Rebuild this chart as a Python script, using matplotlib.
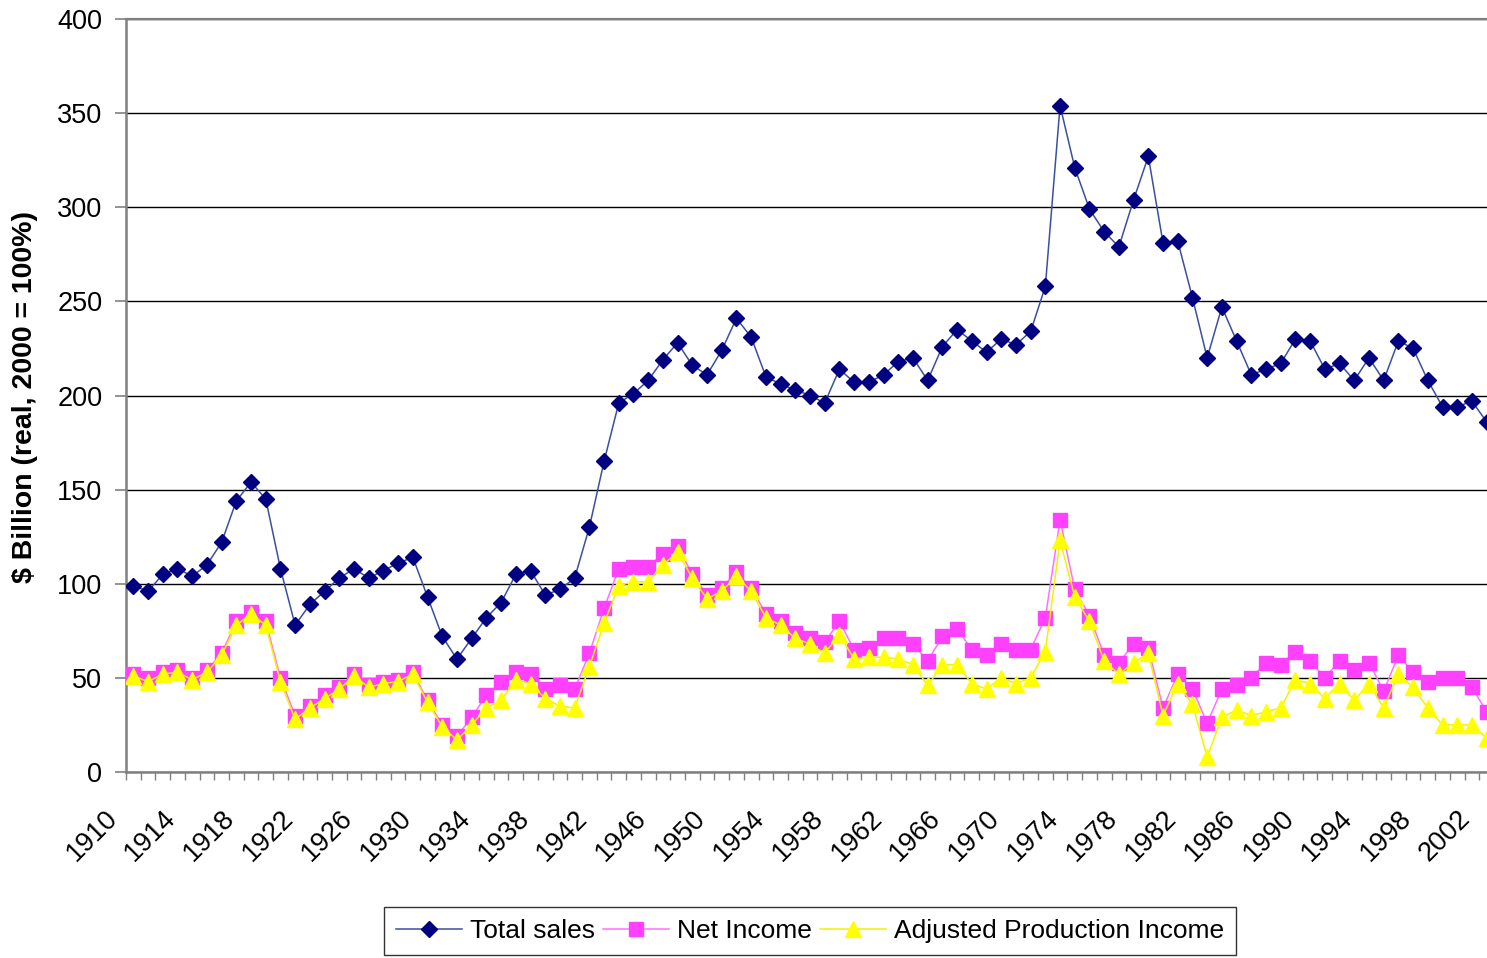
import numpy as np
import matplotlib.pyplot as plt
from matplotlib.transforms import ScaledTranslation

# Colors (Excel default-ish)
NAVY = '#000080'
NAVY_LINE = '#3A4FA0'
PINK = '#FF40FF'
PINK_LINE = '#FF70FF'
YELLOW = '#FFFF00'
YELLOW_LINE = '#F5F000'
GRAY = '#808080'

plt.rcParams['font.family'] = ['Liberation Sans', 'DejaVu Sans']

# Data: 1910-2002, $ billion (real, 2000 = 100%)
years = np.arange(1910, 2003)

total_sales = [
    99, 96, 105, 108, 104, 110, 122, 144, 154, 145,       # 1910-1919
    108, 78, 89, 96, 103, 108, 103, 107, 111, 114,        # 1920-1929
    93, 72, 60, 71, 82, 90, 105, 107, 94, 97,             # 1930-1939
    103, 130, 165, 196, 201, 208, 219, 228, 216, 211,     # 1940-1949
    224, 241, 231, 210, 206, 203, 200, 196, 214, 207,     # 1950-1959
    207, 211, 218, 220, 208, 226, 235, 229, 223, 230,     # 1960-1969
    227, 234, 258, 354, 321, 299, 287, 279, 304, 327,     # 1970-1979
    281, 282, 252, 220, 247, 229, 211, 214, 217, 230,     # 1980-1989
    229, 214, 217, 208, 220, 208, 229, 225, 208, 194,     # 1990-1999
    194, 197, 186,                                        # 2000-2002
]

net_income = [
    52, 50, 53, 54, 50, 54, 63, 80, 85, 80,
    50, 30, 35, 41, 45, 52, 46, 48, 49, 53,
    38, 25, 19, 29, 41, 48, 53, 52, 44, 46,
    44, 63, 87, 108, 109, 109, 116, 120, 105, 94,
    98, 106, 98, 84, 80, 74, 71, 69, 80, 65,
    66, 71, 71, 68, 59, 72, 76, 65, 62, 68,
    65, 65, 82, 134, 97, 83, 62, 58, 68, 66,
    34, 52, 44, 26, 44, 46, 50, 58, 57, 64,
    59, 50, 59, 54, 58, 43, 62, 53, 48, 50,
    50, 45, 32,
]

adj_prod_income = [
    51, 48, 52, 53, 49, 53, 62, 78, 84, 78,
    48, 28, 34, 39, 44, 51, 45, 47, 48, 52,
    37, 24, 17, 25, 34, 38, 49, 47, 39, 35,
    34, 56, 79, 99, 101, 101, 110, 117, 103, 92,
    96, 104, 96, 82, 78, 71, 68, 63, 73, 60,
    61, 61, 60, 57, 46, 57, 57, 47, 44, 50,
    47, 50, 64, 123, 93, 80, 59, 52, 58, 63,
    30, 47, 36, 8, 29, 33, 30, 32, 34, 49,
    47, 39, 47, 38, 47, 34, 52, 45, 34, 25,
    25, 25, 18,
]

series_names = ['Total sales', 'Net Income', 'Adjusted Production Income']

fig = plt.figure(figsize=(14.87, 9.58), dpi=100, facecolor='white')
ax = fig.add_axes([126 / 1487, 1 - 772 / 958, (1494 - 126) / 1487, (772 - 19) / 958])

ax.plot(years, total_sales, color=NAVY_LINE, lw=1.1, marker='D', ms=8.4,
        mfc=NAVY, mec=NAVY, label=series_names[0], zorder=3)
ax.plot(years, net_income, color=PINK_LINE, lw=1.1, marker='s', ms=9.8,
        mfc=PINK, mec=PINK, label=series_names[1], zorder=4)
ax.plot(years, adj_prod_income, color=YELLOW_LINE, lw=1.1, marker='^', ms=11.5,
        mfc=YELLOW, mec=YELLOW, label=series_names[2], zorder=5)

# Axes limits / grid
ax.set_xlim(years[0] - 0.5, years[-1] + 0.5)
ax.set_ylim(0, 400)
ax.set_yticks(np.arange(0, 401, 50))
ax.yaxis.grid(True, color='black', lw=1.0)
ax.set_axisbelow(True)

ax.spines['right'].set_visible(False)
ax.spines['top'].set_color(GRAY)
ax.spines['top'].set_linewidth(1.6)
ax.spines['left'].set_color(GRAY)
ax.spines['left'].set_linewidth(1.8)
ax.spines['bottom'].set_color(GRAY)
ax.spines['bottom'].set_linewidth(1.8)

# y ticks
ax.tick_params(axis='y', direction='out', length=8, width=1.2, color=GRAY,
               pad=9, labelsize=19.5)

# x: year labels every 4 years, tick marks between categories
ax.set_xticks(years[::4])
ax.set_xticklabels([str(y) for y in years[::4]], rotation=45, ha='right',
                   va='center', rotation_mode='anchor', fontsize=19.5)
ax.set_xticks(np.arange(years[0] - 0.5, years[-1] + 1, 1), minor=True)
ax.tick_params(axis='x', which='major', length=0, pad=0)
ax.tick_params(axis='x', which='minor', direction='out', length=6, width=1.0, color=GRAY)
offset = ScaledTranslation(-20 / 100, -42 / 100, fig.dpi_scale_trans)
for lbl in ax.get_xticklabels():
    lbl.set_transform(lbl.get_transform() + offset)

fig.text(25 / 1487, 1 - 397 / 958, '$ Billion (real, 2000 = 100%)', rotation=90,
         ha='center', va='center', fontsize=20.5, fontweight='bold')

leg = fig.legend(loc='upper center', bbox_to_anchor=(810 / 1487, 1 - 907 / 958),
                 ncol=3, fontsize=19, frameon=True, fancybox=False,
                 edgecolor='black', handlelength=2.5, handletextpad=0.3,
                 columnspacing=0.3, borderpad=0.45, borderaxespad=0)
leg.get_frame().set_linewidth(1.0)

plt.savefig('out.png', dpi=100, facecolor='white')
